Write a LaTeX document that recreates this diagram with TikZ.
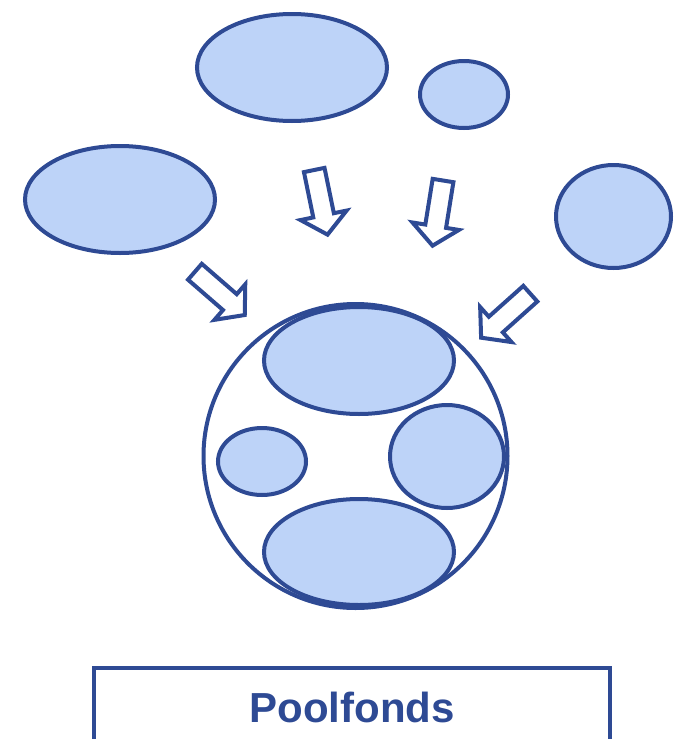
\documentclass[tikz,border=0pt]{standalone}
\usepackage{fontspec}
\setmainfont{Liberation Sans}
\usepackage{tikz}
\usetikzlibrary{shapes.geometric,shapes.arrows,positioning}

\definecolor{poolline}{HTML}{2E4A94}
\definecolor{poolfill}{HTML}{BDD3F8}

\begin{document}
\begin{tikzpicture}[x=1pt,y=-1pt]

\tikzset{blob/.style={ellipse, draw=poolline, fill=poolfill, line width=4pt, inner sep=0pt}}
\tikzset{blockarrow/.style={single arrow, draw=poolline, fill=white, line width=4pt,
  inner xsep=0pt, inner ysep=8.5pt, text height=0pt, text depth=0pt,
  minimum width=44pt, minimum height=66pt, single arrow head extend=13pt, single arrow tip angle=100,
  sloped, allow upside down}}
\tikzset{fundbox/.style={rectangle, draw=poolline, line width=4pt, text=poolline,
  minimum width=516pt, minimum height=79pt, font=\fontsize{42}{50}\selectfont\bfseries}}

\useasboundingbox (0,0) rectangle (684,739);

% Einzelfonds aussen
\node[blob, minimum width=190pt, minimum height=107pt] (f1) at (292,67.5) {};
\node[blob, minimum width=88pt, minimum height=67pt] (f2) at (464,94.5) {};
\node[blob, minimum width=190pt, minimum height=107pt] (f3) at (120,199.5) {};
\node[blob, minimum width=115pt, minimum height=103pt] (f4) at (613.5,216.5) {};

% Pool
\node[circle, draw=poolline, line width=4pt, minimum size=304pt, inner sep=0pt] (pool) at (355.5,456) {};
\node[blob, minimum width=190pt, minimum height=107pt] (p1) at (359,360.5) {};
\node[blob, minimum width=88pt, minimum height=67pt] (p2) at (262,461.5) {};
\node[blob, minimum width=114pt, minimum height=103pt] (p3) at (447,456.5) {};
\node[blob, minimum width=190pt, minimum height=106pt] (p4) at (359,552) {};

% Pfeile
\coordinate (t1) at (313,164);   \coordinate (h1) at (327,232);
\coordinate (t2) at (444,174.5); \coordinate (h2) at (433,243);
\coordinate (t3) at (190,267.5); \coordinate (h3) at (243,313.5);
\coordinate (t4) at (535,289.5); \coordinate (h4) at (483,336);

\path (t1) -- node[blockarrow] (a1) {} (h1);
\path (t2) -- node[blockarrow] (a2) {} (h2);
\path (t3) -- node[blockarrow] (a3) {} (h3);
\path (t4) -- node[blockarrow] (a4) {} (h4);

\node[fundbox] (label) at (352,707) {Poolfonds};

\end{tikzpicture}
\end{document}
